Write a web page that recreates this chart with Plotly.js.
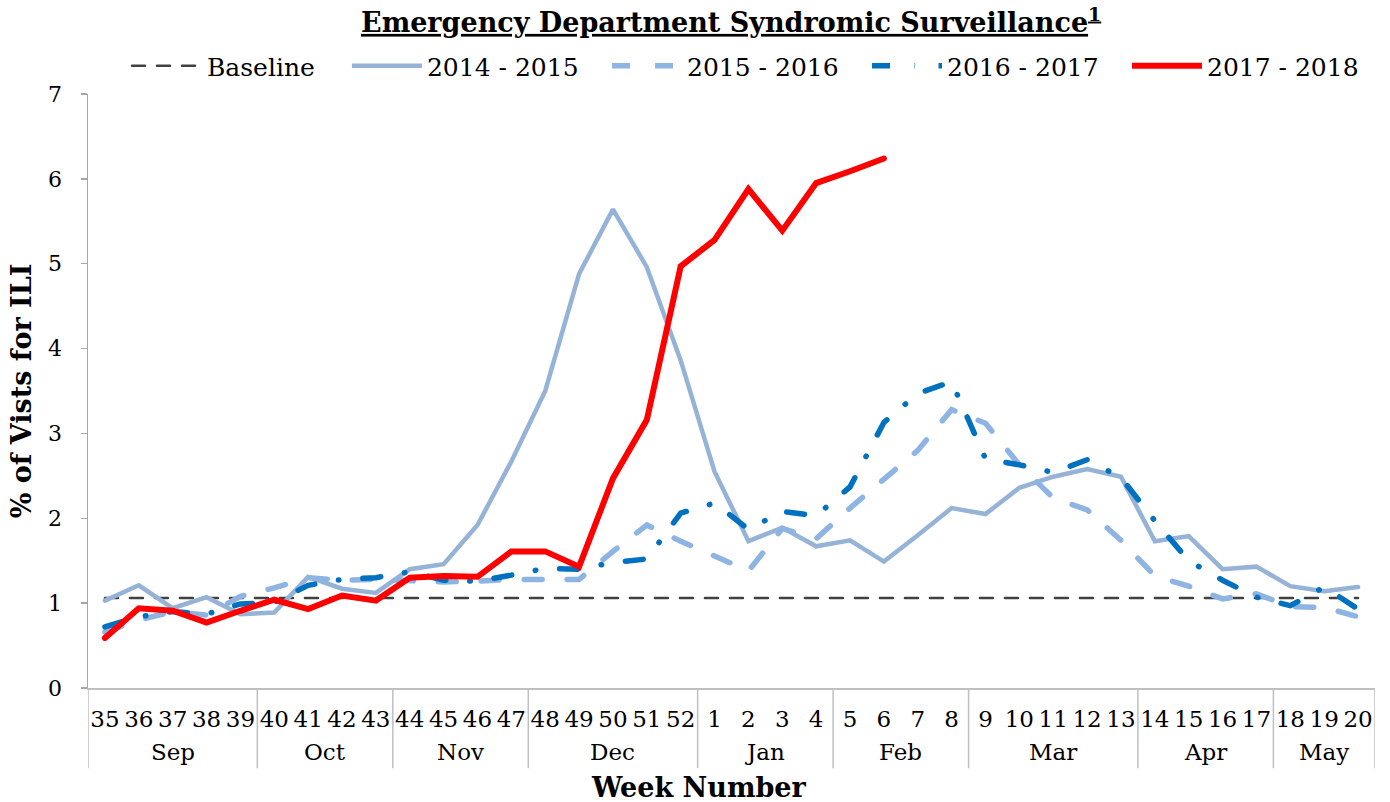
<!DOCTYPE html>
<html>
<head>
<meta charset="utf-8">
<script src="https://cdn.plot.ly/plotly-3.0.1.min.js"></script>
<style>
html,body{margin:0;padding:0;background:#fff;}
#chart{width:1390px;height:802px;}
.scatterlayer .js-line, .legend .js-line{stroke-linecap:round;}
</style>
</head>
<body>
<div id="chart"></div>
<script>
const weeks = ['35','36','37','38','39','40','41','42','43','44','45','46','47','48','49','50','51','52',
  '1','2','3','4','5','6','7','8','9','10','11','12','13','14','15','16','17','18','19','20'];
const months = ['Sep','Sep','Sep','Sep','Sep','Oct','Oct','Oct','Oct','Nov','Nov','Nov','Nov',
  'Dec','Dec','Dec','Dec','Dec','Jan','Jan','Jan','Jan','Feb','Feb','Feb','Feb',
  'Mar','Mar','Mar','Mar','Mar','Apr','Apr','Apr','Apr','May','May','May'];

const baseline = [1.06,1.06,1.06,1.06,1.06,1.06,1.06,1.06,1.06,1.06,1.06,1.06,1.06,1.06,1.06,1.06,1.06,1.06,
  1.06,1.06,1.06,1.06,1.06,1.06,1.06,1.06,1.06,1.06,1.06,1.06,1.06,1.06,1.06,1.06,1.06,1.06,1.06,1.06];
const s2014 = [1.03,1.21,0.94,1.07,0.87,0.89,1.31,1.17,1.12,1.40,1.46,1.92,2.67,3.50,4.88,5.64,4.96,3.86,
  2.55,1.73,1.89,1.67,1.74,1.49,1.80,2.12,2.05,2.36,2.49,2.58,2.49,1.73,1.79,1.40,1.43,1.20,1.14,1.19];
const s2015 = [0.66,0.80,0.90,0.86,1.08,1.18,1.30,1.27,1.28,1.26,1.25,1.26,1.28,1.28,1.28,1.61,1.92,1.73,
  1.56,1.38,1.88,1.76,2.12,2.47,2.80,3.28,3.12,2.63,2.24,2.10,1.74,1.32,1.20,1.05,1.11,0.96,0.95,0.84];
const s2016 = [0.72,0.84,0.90,0.87,0.99,1.01,1.21,1.28,1.30,1.37,1.27,1.26,1.33,1.41,1.40,1.48,1.52,2.06,
  2.18,1.87,2.08,2.03,2.37,3.13,3.47,3.61,2.70,2.63,2.54,2.69,2.48,1.97,1.50,1.27,1.07,0.97,1.19,0.93];
const s2017 = [0.59,0.94,0.91,0.77,0.91,1.04,0.93,1.09,1.03,1.30,1.32,1.31,1.61,1.61,1.43,2.47,3.16,4.97,
  5.28,5.88,5.39,5.95,6.09,6.24,null,null,null,null,null,null,null,null,null,null,null,null,null,null];

const FONT = 'DejaVu Serif, Liberation Serif, serif';
const AXC = '#BFBFBF';

const traces = [
  {name:'Baseline', y: baseline, legend:'legend', line:{color:'#404040', width:2.5, dash:'13px,12px'}},
  {name:'2014 - 2015', y: s2014, legend:'legend2', line:{color:'#95B3D7', width:4.5}},
  {name:'2015 - 2016', y: s2015, legend:'legend3', line:{color:'#8DB4E2', width:5.5, dash:'18px,25px'}},
  {name:'2016 - 2017', y: s2016, legend:'legend4', line:{color:'#0070C0', width:5.5, dash:'18px,24px,0.5px,24px'}},
  {name:'2017 - 2018', y: s2017, legend:'legend5', line:{color:'#FF0000', width:6}}
].map(t => Object.assign({x: weeks, type:'scatter', mode:'lines', hoverinfo:'skip', connectgaps:false}, t));

// month group dividers and labels, built from the months array
const shapes = [];
const annotations = [];
let start = 0;
for (let i = 1; i <= months.length; i++) {
  if (i === months.length || months[i] !== months[start]) {
    annotations.push({xref:'x', yref:'paper', x:(start + i - 1) / 2, y:-0.108, yanchor:'middle',
      text: months[start], showarrow:false, font:{family:FONT, size:23, color:'#000'}});
    start = i;
  }
}
shapes.push({type:'line', xref:'x', yref:'paper', x0:-0.5, x1:-0.5, y0:0, y1:-0.135, line:{color:AXC, width:1.5}});
for (let i = 1; i <= months.length; i++) {
  if (i === months.length || months[i] !== months[i-1]) {
    shapes.push({type:'line', xref:'x', yref:'paper', x0:i-0.5, x1:i-0.5, y0:0, y1:-0.135, line:{color:AXC, width:1.5}});
  }
}
annotations.push({xref:'paper', yref:'paper', x:0.475, y:-0.168, yanchor:'middle', showarrow:false,
  text:'<b>Week Number</b>', font:{family:FONT, size:27, color:'#000'}});

const legendFont = {family:FONT, size:25, color:'#000'};
function leg(xp) {
  return {orientation:'h', x:xp, xanchor:'left', y:1.047, yanchor:'middle',
    font:legendFont, bgcolor:'rgba(0,0,0,0)', itemwidth:70};
}
const layout = {
  width:1390, height:802,
  paper_bgcolor:'#fff', plot_bgcolor:'#fff',
  margin:{l:88, r:15, t:94, b:114},
  font:{family:FONT, size:23, color:'#000'},
  title:{text:'<b><u>Emergency Department Syndromic Surveillance<sup>1</sup></u></b>',
    font:{family:FONT, size:27, color:'#000'}, x:0.526, xanchor:'center', y:0.972, yanchor:'middle'},
  showlegend:true,
  legend: leg(0.0303),
  legend2: leg(0.2012),
  legend3: leg(0.4033),
  legend4: leg(0.6053),
  legend5: leg(0.8073),
  xaxis:{type:'category', range:[-0.5, 37.5], showgrid:false, zeroline:false, automargin:false,
    showline:true, linecolor:AXC, linewidth:1.5,
    ticks:'outside', ticklen:10, tickcolor:'rgba(0,0,0,0)',
    tickfont:{family:FONT, size:23, color:'#000'}},
  yaxis:{range:[0,7], dtick:1, showgrid:false, zeroline:false, automargin:false,
    showline:true, linecolor:'#A6A6A6', linewidth:1.5,
    ticks:'outside', ticklen:6, tickcolor:'#A6A6A6', tickwidth:1.5, ticklabelstandoff:14,
    tickfont:{family:FONT, size:22, color:'#000'},
    title:{text:'<b>% of Vists for ILI</b>', font:{family:FONT, size:27, color:'#000'}, standoff:8}},
  shapes: shapes,
  annotations: annotations
};

Plotly.newPlot('chart', traces, layout, {displayModeBar:false, staticPlot:true});
</script>
</body>
</html>
